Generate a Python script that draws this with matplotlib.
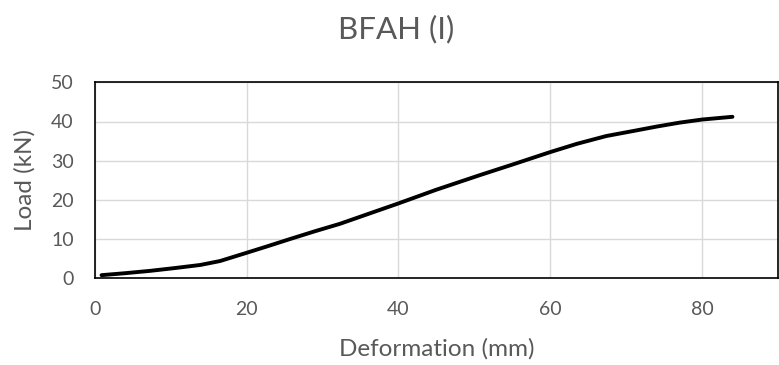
import matplotlib
matplotlib.use("Agg")
import matplotlib.pyplot as plt

plt.rcParams['font.family'] = ['Lato', 'DejaVu Sans']

# Load–deformation response, specimen BFAH (I)
deformation_mm = [0.9, 4.0, 7.3, 10.5, 13.9, 16.5, 20.0, 22.8, 25.7, 29.0,
                  32.3, 36.0, 40.0, 45.0, 50.7, 55.0, 60.0, 63.5, 67.4,
                  71.0, 74.0, 77.0, 80.0, 84.0]
load_kN = [0.8, 1.3, 1.9, 2.6, 3.4, 4.4, 6.5, 8.2, 10.0, 12.0,
           13.9, 16.4, 19.1, 22.6, 26.3, 29.0, 32.2, 34.3, 36.3,
           37.6, 38.7, 39.7, 40.5, 41.2]

x_ticks = [0, 20, 40, 60, 80]
y_ticks = [0, 10, 20, 30, 40, 50]

text_color = '#595959'

fig = plt.figure(figsize=(7.79, 3.65), dpi=100)
ax = fig.add_axes([94.7 / 779, 1 - 278.3 / 365, (778 - 94.7) / 779, (278.3 - 82.3) / 365])

ax.plot(deformation_mm, load_kN, color='black', lw=2.8, solid_capstyle='round',
        solid_joinstyle='round', zorder=3)

ax.set_xlim(0, 90)
ax.set_ylim(0, 50)
ax.set_xticks(x_ticks)
ax.set_yticks(y_ticks)
ax.grid(True, color='#d9d9d9', lw=1.0, zorder=0)
ax.set_axisbelow(True)
for s in ax.spines.values():
    s.set_color('black')
    s.set_linewidth(1.2)
ax.tick_params(length=0, labelsize=14, colors=text_color)
ax.tick_params(axis='x', pad=16)
ax.tick_params(axis='y', pad=15)

ax.set_xlabel('Deformation (mm)', fontsize=17.5, color=text_color, va='center')
ax.set_ylabel('Load (kN)', fontsize=17.5, color=text_color, va='center')
ax.xaxis.set_label_coords(0.5, (278.3 - 349) / 196)
ax.yaxis.set_label_coords((25 - 94.7) / 683.3, 0.5)

fig.text(396 / 779, 1 - 29 / 365, 'BFAH (I)', ha='center', va='center',
         fontsize=22.5, color=text_color)

fig.savefig('out.png', dpi=100)
